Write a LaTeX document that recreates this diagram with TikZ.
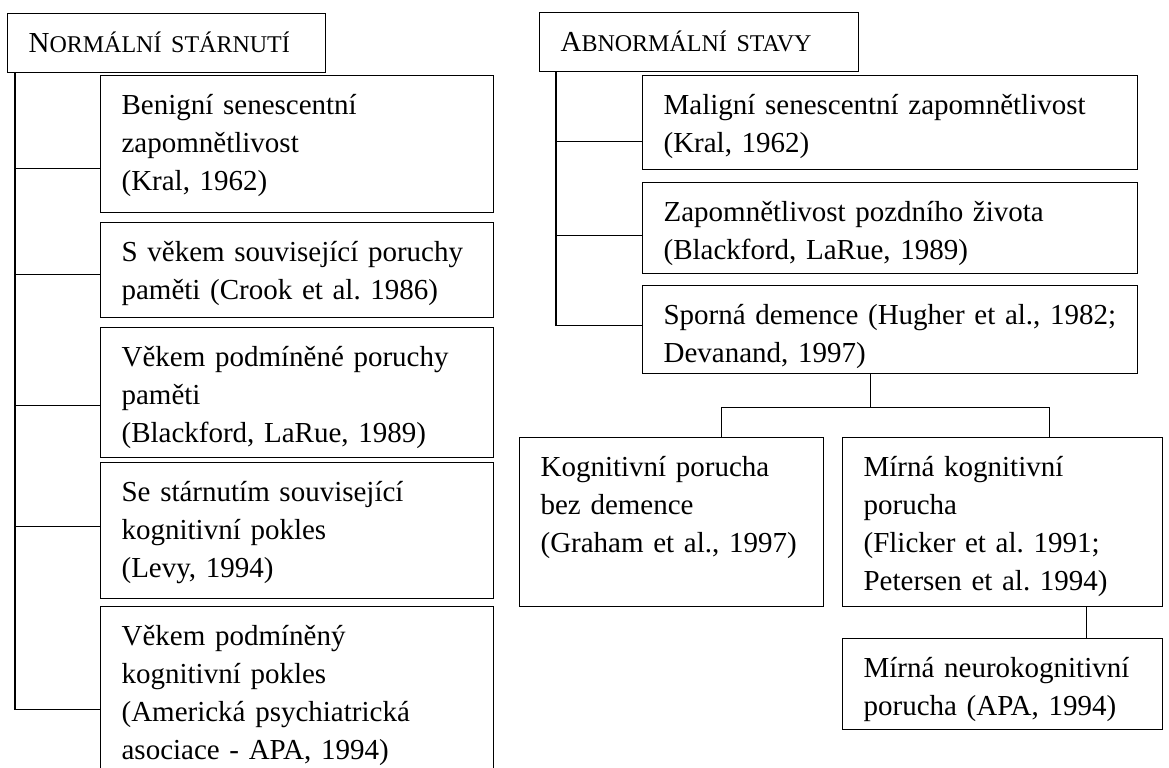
\documentclass[tikz,border=0pt]{standalone}
\usepackage{fontspec}
\setmainfont{Liberation Serif}
\frenchspacing
\newcommand{\fakesc}[2]{#1{\fontsize{12}{13}\selectfont #2}}

\begin{document}
\begin{tikzpicture}[x=0.5pt, y=-0.5pt, line width=0.6pt,
  head/.style={draw, anchor=north west, align=left, inner xsep=10.5pt, inner ysep=0pt,
    text width=#1, text height=19.5pt, text depth=10pt, font=\fontsize{14.5}{19}\selectfont},
  entry/.style 2 args={draw, anchor=north west, align=left, inner xsep=10.5pt, inner ysep=0pt,
    text width=#1, text height=19.5pt, text depth=#2, font=\fontsize{14.5}{19}\selectfont}]
  \useasboundingbox (0,0) rectangle (1169,767);

  % normal ageing
  \node[head=138pt] (nst) at (7,13) {\fakesc{N}{ORMÁLNÍ STÁRNUTÍ}};
  \node[entry={175.5pt}{49pt}] (lb1) at (100,75) {Benigní senescentní\\zapomnětlivost\\(Kral, 1962)};
  \node[entry={175.5pt}{28pt}] (lb2) at (100,222) {S věkem související poruchy\\paměti (Crook et al. 1986)};
  \node[entry={175.5pt}{45.5pt}] (lb3) at (100,327) {Věkem podmíněné poruchy\\paměti\\(Blackford, LaRue, 1989)};
  \node[entry={175.5pt}{48.5pt}] (lb4) at (100,462) {Se stárnutím související\\kognitivní pokles\\(Levy, 1994)};
  \node[entry={175.5pt}{75.5pt}] (lb5) at (100,606) {Věkem podmíněný\\kognitivní pokles\\(Americká psychiatrická\\asociace - APA, 1994)};
  \coordinate (ltrunk) at ([xshift=4pt]nst.south west);
  \foreach \b/\s in {lb1/-12.25, lb2/-2.25, lb3/-6.5, lb4/2, lb5/-4}
    \draw ([yshift=\s pt]\b.west) -| (ltrunk);

  % abnormal states
  \node[head=138.5pt] (ast) at (539,12) {\fakesc{A}{BNORMÁLNÍ STAVY}};
  \node[entry={226.5pt}{27.5pt}] (r1) at (642,75) {Maligní senescentní zapomnětlivost\\(Kral, 1962)};
  \node[entry={226.5pt}{26pt}] (r2) at (642,182) {Zapomnětlivost pozdního života\\(Blackford, LaRue, 1989)};
  \node[entry={226.5pt}{24.5pt}] (r3) at (642,285) {Sporná demence (Hugher et al., 1982;\\Devanand, 1997)};
  \coordinate (rtrunk) at ([xshift=8.5pt]ast.south west);
  \foreach \b/\s in {r1/-9.5, r2/-3.75, r3/2}
    \draw ([yshift=\s pt]\b.west) -| (rtrunk);

  % split below
  \node[entry={131pt}{65pt}] (kb) at (519,437) {Kognitivní porucha\\bez demence\\(Graham et al., 1997)};
  \node[entry={139pt}{65pt}] (mb) at (842,437) {Mírná kognitivní\\porucha\\(Flicker et al. 1991;\\Petersen et al. 1994)};
  \node[entry={139pt}{26pt}] (nb) at (842,638) {Mírná neurokognitivní\\porucha (APA, 1994)};
  \coordinate (fork) at ([xshift=-9.75pt, yshift=-16.5pt]r3.south);
  \draw (r3.south -| fork) -- (fork);
  \draw ([xshift=25pt]kb.north) |- (fork) -| ([xshift=23.5pt]mb.north);
  \draw ([xshift=42pt]mb.south) -- ([xshift=42pt]nb.north);
\end{tikzpicture}
\end{document}
